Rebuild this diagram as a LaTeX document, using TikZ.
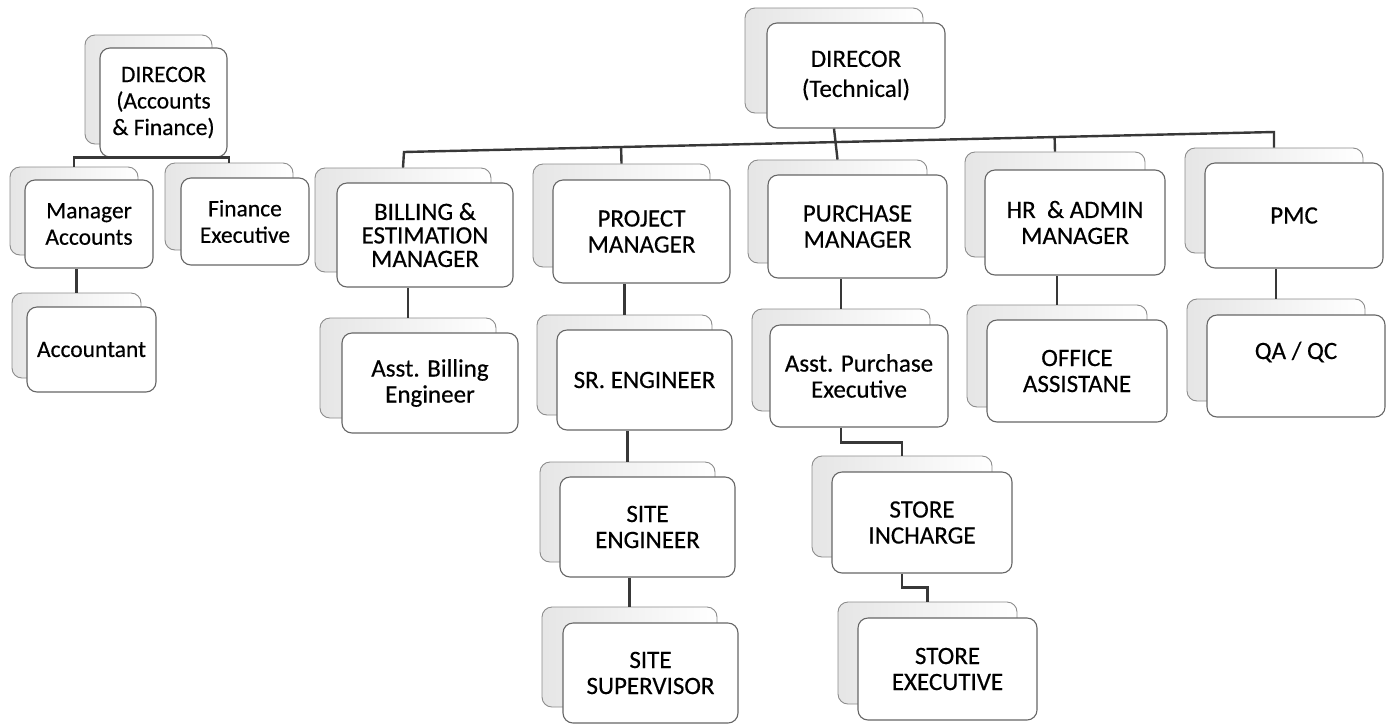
\documentclass[tikz,border=0pt]{standalone}
\usepackage{fontspec}
\setmainfont{Carlito}[FakeBold=0.4]
\usetikzlibrary{calc}
\tikzset{
  conn/.style={draw=black!78, line width=2.4pt},
  backbox/.style={draw=black!45, line width=0.9pt, rounded corners=10pt, left color=black!10, right color=white, inner sep=0pt},
  frontbox/.style={draw=black!60, line width=1.1pt, rounded corners=10pt, fill=white, inner sep=0pt, align=center, text=black},
  fsL/.style={font=\fontsize{23.5}{26.5}\selectfont},
  fsR/.style={font=\fontsize{25}{26}\selectfont},
  fsB/.style={font=\fontsize{25}{23.5}\selectfont},
  fsT/.style={font=\fontsize{25}{30}\selectfont},
}
% #1 name, #2-#5 front box x1,y1,x2,y2, #6,#7 back offset, #8 style, #9 text
\newcommand\pairbox[9]{%
  \node[backbox, minimum width={(#4-#2)*1pt}, minimum height={(#5-#3)*1pt}] (#1B) at ({(#2+#4)/2-#6},{(#3+#5)/2-#7}) {};
  \node[frontbox, minimum width={(#4-#2)*1pt}, minimum height={(#5-#3)*1pt}, #8] (#1) at ({(#2+#4)/2},{(#3+#5)/2}) {#9};
}
\begin{document}
\begin{tikzpicture}[x=1pt, y=-1pt]
\useasboundingbox[fill=white] (0,0) rectangle (1397,724);

% left group
\pairbox{dirAF}{100}{48}{227}{157}{15}{13}{fsL}{DIRECOR\\(Accounts\\\& Finance)}
\pairbox{mgrAcc}{25}{180}{153}{268}{15}{13}{fsL}{Manager\\Accounts}
\pairbox{finExe}{181}{178}{309}{265}{16}{15}{fsL}{Finance\\Executive}
\pairbox{acct}{27}{307}{156}{392}{15}{14}{fsL}{Accountant}

% right group
\pairbox{dirT}{767}{23}{945}{128}{22}{15}{fsT}{DIRECOR\\(Technical)}
\pairbox{bill}{337}{183}{513}{287}{22}{15}{fsB}{BILLING \&\\ESTIMATION\\MANAGER}
\pairbox{abill}{342}{333}{518}{433}{22}{15}{fsR}{Asst. Billing\\Engineer}
\pairbox{proj}{553}{180}{730}{283}{20}{16}{fsR}{PROJECT\\MANAGER}
\pairbox{sreng}{557}{330}{732}{430}{20}{15}{fsR}{SR. ENGINEER}
\pairbox{siteE}{560}{477}{735}{577}{20}{15}{fsR}{SITE\\ENGINEER}
\pairbox{siteS}{563}{623}{738}{723}{21}{16}{fsR}{SITE\\SUPERVISOR}
\pairbox{purch}{768}{175}{947}{278}{20}{15}{fsR}{PURCHASE\\MANAGER}
\pairbox{apurch}{770}{325}{948}{427}{18}{16}{fsR}{Asst. Purchase\\Executive}
\pairbox{storeI}{832}{472}{1012}{573}{20}{16}{fsR}{STORE\\INCHARGE}
\pairbox{storeE}{858}{618}{1037}{720}{20}{16}{fsR}{STORE\\EXECUTIVE}
\pairbox{hr}{985}{170}{1165}{275}{20}{18}{fsR}{HR\ \ \& ADMIN\\MANAGER}
\pairbox{office}{987}{320}{1167}{422}{20}{15}{fsR}{OFFICE\\ASSISTANE}
\pairbox{pmc}{1205}{163}{1383}{268}{20}{15}{fsR}{PMC}
\pairbox{qaqc}{1207}{315}{1385}{417}{20}{16}{fsR}{\raisebox{14pt}[\height][\depth]{QA / QC}}

% connectors, left group
\draw[conn] (mgrAccB.north) -- (mgrAccB.north |- dirAF.south) -- (finExeB.north |- dirAF.south) -- (finExeB.north);
\draw[conn] (acctB.north) -- (acctB.north |- mgrAcc.south);

% connectors, right group
\coordinate (busL) at (404,152);
\coordinate (busR) at (1274,132);
\draw[conn] (billB.north) -- (busL) -- (busR) -- (pmcB.north);
\draw[conn] (projB.north) -- ($(busL)!(projB.north)!(busR)$);
\draw[conn] (hrB.north) -- ($(busL)!(hrB.north)!(busR)$);
\draw[conn] (dirTB.south |- dirT.south) -- (purchB.north);
\draw[conn] (abillB.north) -- (abillB.north |- bill.south);
\draw[conn] (srengB.north) -- (srengB.north |- proj.south);
\draw[conn] (siteEB.north) -- (siteEB.north |- sreng.south);
\draw[conn] (siteSB.north) -- (siteSB.north |- siteE.south);
\draw[conn] (apurchB.north) -- (apurchB.north |- purch.south);
\draw[conn] (apurchB.south |- apurch.south) -- ++(0,15) -| (storeIB.north);
\draw[conn] (storeIB.south |- storeI.south) -- ++(0,14) -| (storeEB.north);
\draw[conn] (officeB.north) -- (officeB.north |- hr.south);
\draw[conn] (qaqcB.north) -- (qaqcB.north |- pmc.south);
\end{tikzpicture}
\end{document}
